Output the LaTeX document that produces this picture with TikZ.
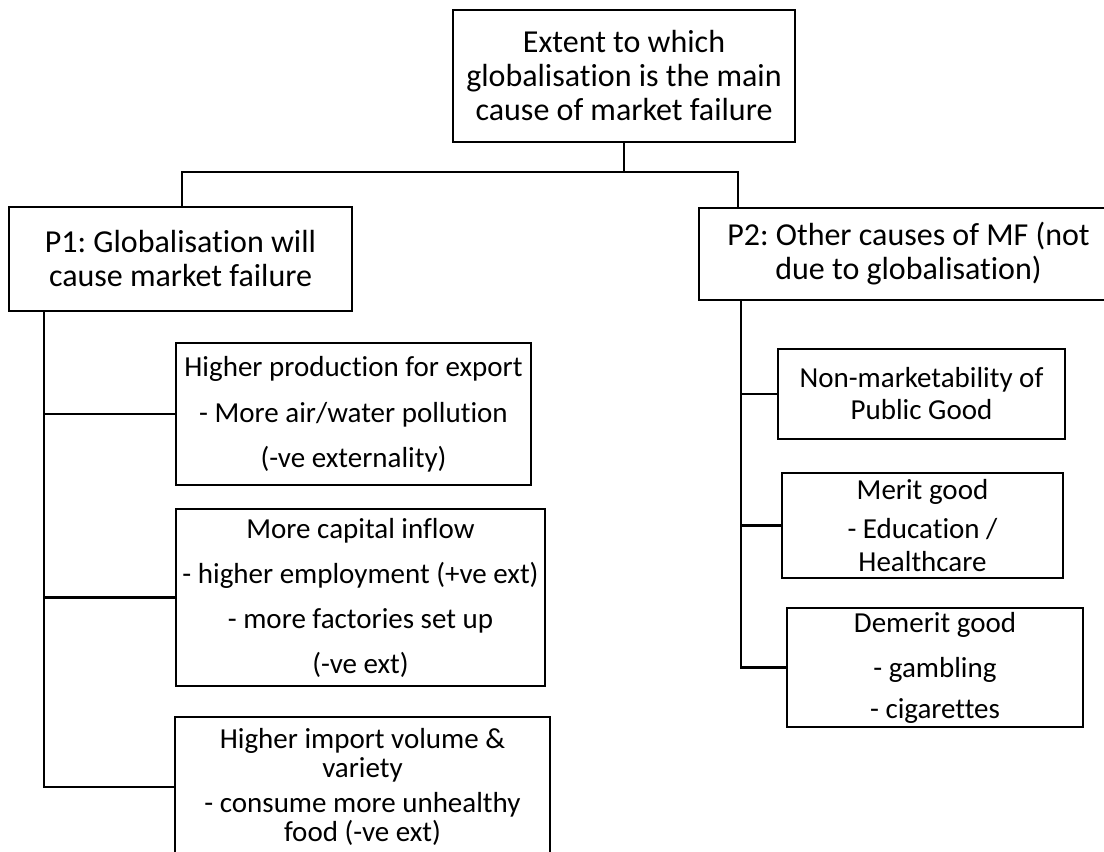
\documentclass[tikz,border=0pt]{standalone}
\usepackage{fontspec}
\setmainfont{Carlito}[Ligatures=NoCommon]
\frenchspacing
\begin{document}
\begin{tikzpicture}[x=1pt,y=-1pt,
  box/.style={draw, line width=2.8pt, align=center, inner sep=0pt, rectangle, fill=white},
  big/.style={font=\fontsize{32}{34}\selectfont},
  small/.style={font=\fontsize{29}{29}\selectfont},
  conn/.style={line width=2.8pt}]
\useasboundingbox[fill=white] (0,0) rectangle (1104,852);

% top level
\node[box, big, minimum width=342pt, minimum height=132pt] (top) at (624,76)
  {Extent to which\\globalisation is the main\\cause of market failure};

% second level
\node[box, big, minimum width=343pt, minimum height=104pt] (p1) at (180.5,259)
  {P1: Globalisation will\\cause market failure};
\node[box, big, minimum width=419pt, minimum height=92pt] (p2) at (908.5,254)
  {P2: Other causes of MF (not\\due to globalisation)};

% P1 children
\node[box, small, minimum width=355pt, minimum height=142pt] (a) at (353.5,414)
  {Higher production for export\\[17pt]- More air/water pollution\\[16pt](-ve externality)};
\node[box, small, minimum width=369pt, minimum height=177pt] (b) at (360.5,597.5)
  {More capital inflow\\[16pt]- higher employment (+ve ext)\\[16pt]- more factories set up\\[16pt](-ve ext)};
\node[box, small, minimum width=375pt, minimum height=140pt] (c) at (362.5,787)
  {Higher import volume \&\\variety\\[6pt]- consume more unhealthy\\food (-ve ext)};

% P2 children
\node[box, small, minimum width=287pt, minimum height=90pt] (d) at (921.5,394)
  {Non-marketability of\\[3pt]Public Good};
\node[box, small, minimum width=281pt, minimum height=105pt] (e) at (922.5,525.5)
  {Merit good\\[10pt]- Education /\\[4pt]Healthcare};
\node[box, small, minimum width=296pt, minimum height=119pt] (f) at (935,667.5)
  {Demerit good\\[16pt]- gambling\\[12pt]- cigarettes};

% connectors top -> P1, P2
\coordinate (jl) at (182,172);
\coordinate (jr) at (738,172);
\draw[conn] (top.south) -- (top.south |- jl);
\draw[conn] (p1.north -| jl) -- (jl) -- (jr) -- (p2.north -| jr);

% P1 stem
\coordinate (s1) at (44,0);
\draw[conn] (p1.south -| s1) |- (c.west);
\draw[conn] (a.west) -- (a.west -| s1);
\draw[conn] (b.west) -- (b.west -| s1);

% P2 stem
\coordinate (s2) at (741,0);
\draw[conn] (p2.south -| s2) |- (f.west);
\draw[conn] (d.west) -- (d.west -| s2);
\draw[conn] (e.west) -- (e.west -| s2);
\end{tikzpicture}
\end{document}
